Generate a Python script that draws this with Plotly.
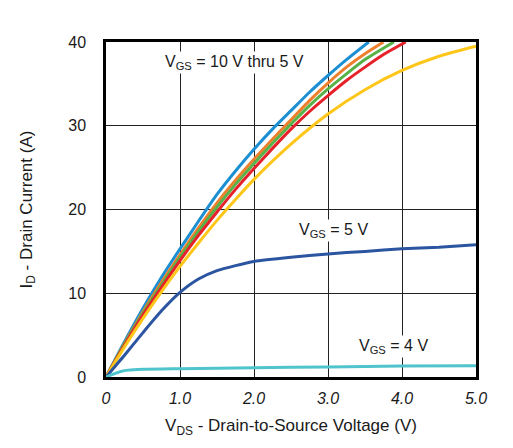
import plotly.graph_objects as go

# V_GS = 10 V ... 5 V family (top bundle)
x_blue = [0, 0.25, 0.5, 0.75, 1.0, 1.25, 1.5, 1.75, 2.0, 2.25, 2.5, 2.75, 3.0, 3.25, 3.55]
y_blue = [0, 4.2, 8.2, 11.9, 15.3, 18.6, 21.8, 24.6, 27.2, 29.6, 31.8, 34.0, 36.0, 37.9, 40.0]

x_orange = [0, 0.25, 0.5, 0.75, 1.0, 1.25, 1.5, 1.75, 2.0, 2.25, 2.5, 2.75, 3.0, 3.25, 3.5, 3.75]
y_orange = [0, 4.0, 7.8, 11.3, 14.6, 17.8, 20.8, 23.5, 26.0, 28.4, 30.7, 33.0, 35.1, 37.0, 38.6, 40.0]

x_green = [0, 0.25, 0.5, 0.75, 1.0, 1.25, 1.5, 1.75, 2.0, 2.25, 2.5, 2.75, 3.0, 3.25, 3.5, 3.89]
y_green = [0, 3.9, 7.6, 11.0, 14.3, 17.4, 20.3, 23.0, 25.5, 27.9, 30.2, 32.4, 34.4, 36.2, 37.9, 40.0]

x_red = [0, 0.25, 0.5, 0.75, 1.0, 1.25, 1.5, 1.75, 2.0, 2.25, 2.5, 2.75, 3.0, 3.25, 3.5, 3.75, 4.05]
y_red = [0, 3.8, 7.4, 10.7, 13.9, 16.9, 19.7, 22.4, 24.9, 27.3, 29.6, 31.7, 33.6, 35.4, 37.0, 38.5, 40.0]

x_yellow = [0, 0.25, 0.5, 0.75, 1.0, 1.25, 1.5, 1.75, 2.0, 2.5, 3.0, 3.5, 4.0, 4.5, 5.0]
y_yellow = [0, 3.6, 7.0, 10.2, 13.2, 16.0, 18.7, 21.2, 23.6, 27.8, 31.4, 34.3, 36.6, 38.3, 39.5]

# V_GS = 5 V
x_5v = [0, 0.25, 0.5, 0.75, 1.0, 1.25, 1.5, 1.75, 2.0, 2.5, 3.0, 3.5, 4.0, 4.5, 5.0]
y_5v = [0, 2.6, 5.3, 7.9, 10.1, 11.7, 12.7, 13.3, 13.8, 14.3, 14.7, 15.0, 15.3, 15.5, 15.8]

# V_GS = 4 V
x_4v = [0, 0.1, 0.2, 0.3, 0.5, 1.0, 2.0, 3.0, 4.0, 5.0]
y_4v = [0, 0.35, 0.65, 0.82, 0.93, 1.0, 1.1, 1.2, 1.3, 1.35]

x_ticks = [0, 1, 2, 3, 4, 5]
x_ticktext = ["0", "1.0", "2.0", "3.0", "4.0", "5.0"]
y_ticks = [0, 10, 20, 30, 40]

series = [
    (x_blue, y_blue, "#1b8fd2"),
    (x_orange, y_orange, "#ee7f2d"),
    (x_green, y_green, "#58b247"),
    (x_red, y_red, "#e62129"),
    (x_yellow, y_yellow, "#ffc61a"),
    (x_5v, y_5v, "#2b55a0"),
    (x_4v, y_4v, "#4fc4cd"),
]

fig = go.Figure()
for xs, ys, c in series:
    fig.add_trace(go.Scatter(x=xs, y=ys, mode="lines",
                             line=dict(color=c, width=3, shape="spline", smoothing=0.6),
                             showlegend=False, hoverinfo="skip"))

font_family = "Liberation Sans, Arial, sans-serif"

fig.update_layout(
    width=513, height=448,
    margin=dict(l=98, r=45, t=34, b=79),
    paper_bgcolor="white", plot_bgcolor="white",
    font=dict(family=font_family, size=16, color="#1a1a1a"),
    xaxis=dict(range=[0, 5], tickvals=x_ticks,
               ticktext=["<i>%s</i>" % t for t in x_ticktext],
               showgrid=True, gridcolor="#222222", gridwidth=1,
               showline=True, linecolor="black", linewidth=2.5, mirror=True,
               zeroline=False, ticks="", ticklabelstandoff=5,
               tickfont=dict(size=16),
               title=dict(text="V<sub>DS</sub> - Drain-to-Source Voltage (V)",
                          font=dict(size=17), standoff=14)),
    yaxis=dict(range=[0, 40], tickvals=y_ticks,
               showgrid=True, gridcolor="#222222", gridwidth=1,
               showline=True, linecolor="black", linewidth=2.5, mirror=True,
               zeroline=False, ticks="", ticklabelstandoff=14,
               tickfont=dict(size=16),
               title=dict(text="I<sub>D</sub> - Drain Current (A)",
                          font=dict(size=17), standoff=32)),
    annotations=[
        dict(x=1.73, y=37.5, xref="x", yref="y", showarrow=False,
             text="V<sub>GS</sub> = 10 V thru 5 V", font=dict(size=16),
             bgcolor="white"),
        dict(x=3.07, y=17.5, xref="x", yref="y", showarrow=False,
             text="V<sub>GS</sub> = 5 V", font=dict(size=16), bgcolor="white"),
        dict(x=3.88, y=3.6, xref="x", yref="y", showarrow=False,
             text="V<sub>GS</sub> = 4 V", font=dict(size=16), bgcolor="white"),
    ],
)

fig.write_html("out.html")
